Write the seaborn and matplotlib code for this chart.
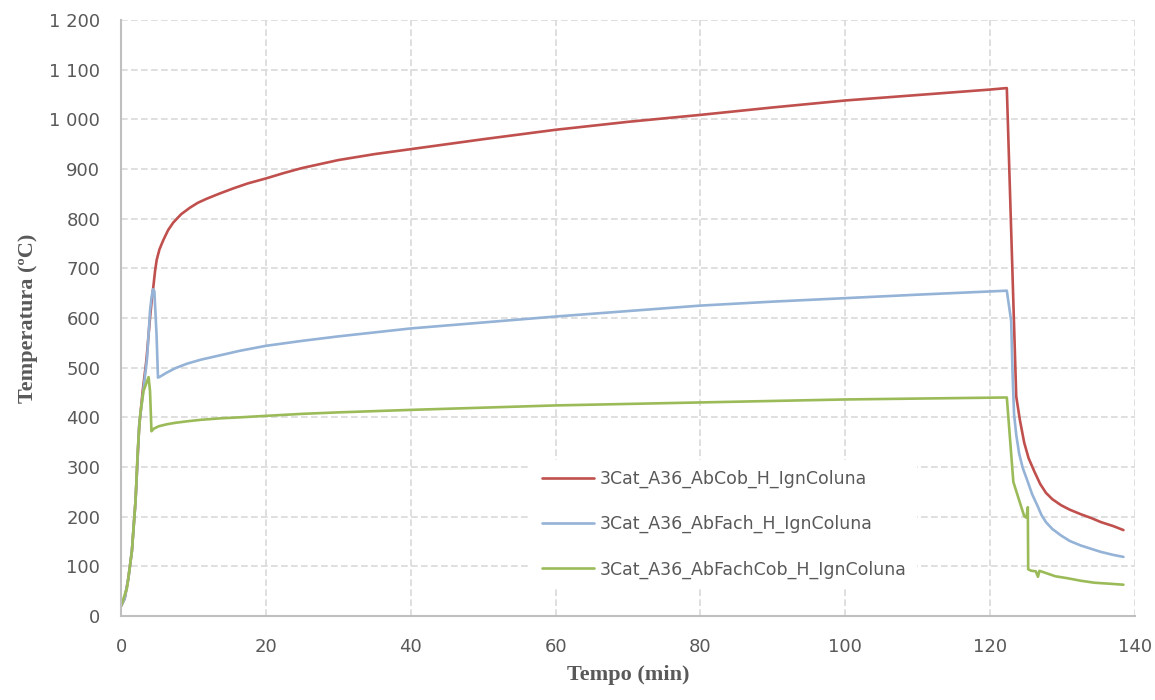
import numpy as np
import pandas as pd
import seaborn as sns
import matplotlib.pyplot as plt
from matplotlib.ticker import FuncFormatter

# series (time in min, temperature in degC)
red_t = [0, 0.5, 1.0, 1.5, 2.0, 2.5, 3.0, 3.5, 4.0, 4.2, 4.46, 4.7, 4.92, 5.3, 5.84, 6.5,
         7.2, 8.3, 9.5, 10.6, 11.8, 13.5, 15.5, 17.5, 20, 22.5, 25, 30, 35, 40, 45,
         50, 60, 70, 80, 90, 100, 110, 120, 122.3,
         123.6, 124.1, 124.7, 125.3, 126.1, 126.9, 127.7, 128.6, 129.8, 131, 132.5,
         134, 135.3, 137, 138.4]
red_T = [20, 35, 75, 131, 232, 380, 455, 515, 600, 630, 663, 695, 717, 738, 757, 777,
         792, 809, 822, 832, 840, 850, 861, 871, 881, 892, 902, 918, 930, 940, 950,
         960, 979, 995, 1009, 1024, 1038, 1049, 1060, 1063,
         442, 395, 349, 318, 291, 266, 248, 235, 223, 214, 205,
         197, 189, 181, 173]

blue_t = [0, 0.5, 1.0, 1.5, 2.0, 2.5, 2.9, 3.6, 4.0, 4.2, 4.4, 4.6, 4.9, 5.1, 5.5, 6.3,
          7.5, 9.1, 11, 13.7, 16.4, 20, 25, 30, 35, 40, 50, 60, 70, 80, 90, 100, 110,
          122.3, 122.9, 123.1, 123.3, 123.6, 124.0, 124.5, 125.2, 125.8, 126.5, 127.1,
          127.7, 128.6, 129.8, 131, 132.5, 134, 135.3, 137, 138.4]
blue_T = [20, 35, 75, 131, 232, 385, 433, 520, 614, 640, 658, 654, 567, 480, 483, 490,
          499, 508, 516, 525, 534, 544, 554, 563, 571, 579, 591, 603, 614, 625, 633, 640, 647,
          655, 594, 486, 406, 365, 327, 298, 270, 245, 223, 203,
          189, 175, 162, 151, 142, 135, 129, 123, 119]

green_t = [0, 0.83, 1.5, 2.0, 2.3, 2.6, 3.1, 3.8, 4.0, 4.2, 4.5, 5.2, 6.3, 7.5, 9.1,
           11, 13.7, 16.4, 20, 25, 30, 40, 60, 80, 100, 122.3,
           123.2, 124.7, 125.0, 125.2, 125.25, 125.7, 126.3, 126.6, 126.8, 127.8,
           129, 130.7, 132.5, 134.4, 136.5, 138.4]
green_T = [20, 57, 131, 232, 332, 400, 453, 481, 453, 372, 377, 382, 386, 389, 392,
           395, 398, 400, 403, 407, 410, 415, 424, 430, 436, 440,
           270, 201, 198, 219, 94, 91, 90, 79, 91, 86,
           80, 76, 71, 67, 65, 63]

labels = ["3Cat_A36_AbCob_H_IgnColuna",
          "3Cat_A36_AbFach_H_IgnColuna",
          "3Cat_A36_AbFachCob_H_IgnColuna"]
colors = ["#C0504D", "#95B3D7", "#9BBB59"]

df = pd.concat([
    pd.DataFrame({"t": red_t, "T": red_T, "serie": labels[0]}),
    pd.DataFrame({"t": blue_t, "T": blue_T, "serie": labels[1]}),
    pd.DataFrame({"t": green_t, "T": green_T, "serie": labels[2]}),
], ignore_index=True)

sns.set_theme(style="white")
plt.rcParams["font.family"] = ["DejaVu Sans"]

fig = plt.figure(figsize=(11.55, 7), dpi=100)
ax = fig.add_axes([0.1048, 0.12, 0.8779, 0.8514])

sns.lineplot(data=df, x="t", y="T", hue="serie", palette=dict(zip(labels, colors)),
             sort=False, estimator=None, linewidth=1.9, ax=ax)

ax.set_xlim(0, 140)
ax.set_ylim(0, 1200)
ax.set_xticks(np.arange(0, 141, 20))
ax.set_yticks(np.arange(0, 1201, 100))
ax.yaxis.set_major_formatter(FuncFormatter(lambda v, p: f"{int(v):,}".replace(",", " ")))

ax.grid(True, color="#D9D9D9", linestyle=(0, (4, 2)), linewidth=1.2)
ax.set_axisbelow(True)
for s in ["top", "right"]:
    ax.spines[s].set_visible(False)
for s in ["left", "bottom"]:
    ax.spines[s].set_color("#BFBFBF")
    ax.spines[s].set_linewidth(1.5)

ax.tick_params(axis="x", length=0, pad=16, labelsize=13, labelcolor="#595959")
ax.tick_params(axis="y", length=0, pad=15, labelsize=13, labelcolor="#595959")

ax.set_xlabel("Tempo (min)", family="Liberation Serif", fontweight="bold",
              fontsize=16, color="#595959", labelpad=6)
ax.set_ylabel("Temperatura (ºC)", family="Liberation Serif", fontweight="bold",
              fontsize=16, color="#595959", labelpad=8)

leg = ax.legend(loc="upper left", bbox_to_anchor=(0.396, 0.277), frameon=True,
                fontsize=12.5, handlelength=3.0, handletextpad=0.35,
                labelspacing=1.55, borderpad=0.6)
leg.get_frame().set_facecolor("white")
leg.get_frame().set_edgecolor("none")
leg.get_frame().set_alpha(1)
for txt in leg.get_texts():
    txt.set_color("#595959")

plt.savefig("out.png", dpi=100)
